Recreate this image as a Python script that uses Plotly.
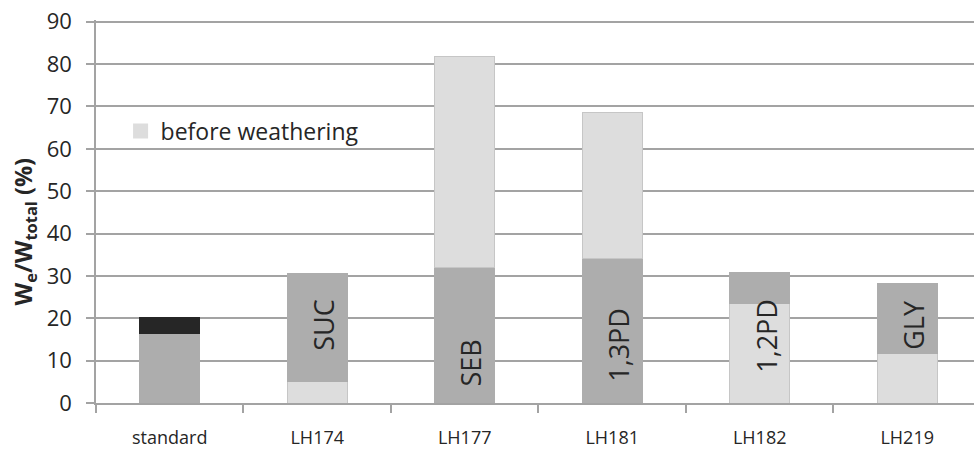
import plotly.graph_objects as go

categories = ["standard", "LH174", "LH177", "LH181", "LH182", "LH219"]
lower_segment = [16.5, 5.0, 32.0, 34.0, 23.5, 11.7]
upper_segment = [3.7, 25.5, 49.8, 34.6, 7.3, 16.5]
segment_labels = ["", "SUC", "SEB", "1,3PD", "1,2PD", "GLY"]
label_y = [0, 18.5, 9.5, 13.8, 15.8, 18.5]
y_ticks = [0, 10, 20, 30, 40, 50, 60, 70, 80, 90]

MED = "#adadad"
LIGHT = "#dddddd"
DARK = "#262626"
lower_colors = [MED, LIGHT, MED, MED, LIGHT, LIGHT]
upper_colors = [DARK, MED, LIGHT, LIGHT, MED, MED]

def edge(cs):
    return ["#c6c6c6" if c == LIGHT else c for c in cs]

FONT = "Open Sans"
TXT = "#262626"
GRID = "#a3a3a3"

fig = go.Figure()
fig.add_trace(go.Bar(x=categories, y=lower_segment, width=0.405,
                     marker=dict(color=lower_colors, line=dict(color=edge(lower_colors), width=1)),
                     showlegend=False, hoverinfo="skip"))
fig.add_trace(go.Bar(x=categories, y=upper_segment, width=0.405,
                     marker=dict(color=upper_colors, line=dict(color=edge(upper_colors), width=1)),
                     showlegend=False, hoverinfo="skip"))
fig.add_trace(go.Scatter(x=[None], y=[None], mode="markers", name="before weathering",
                         marker=dict(color=LIGHT, symbol="square", size=15, line=dict(width=0)),
                         showlegend=True))

for c, t, yy in zip(categories, segment_labels, label_y):
    if t:
        fig.add_annotation(x=c, y=yy, xref="x", yref="y", text=t, textangle=-90,
                           showarrow=False, xshift=6,
                           font=dict(family=FONT, size=27, color=TXT))

fig.add_annotation(xref="paper", yref="paper", x=-0.082, y=0.448, xanchor="center", yanchor="middle",
                   text="<b>W<sub>e</sub>/W<sub>total</sub> (%)</b>", textangle=-90, showarrow=False,
                   font=dict(family=FONT, size=23.5, color=TXT))

fig.update_layout(
    width=974, height=451,
    margin=dict(l=96, r=0, t=20, b=48),
    paper_bgcolor="white", plot_bgcolor="white",
    barmode="stack",
    font=dict(family=FONT, color=TXT),
    legend=dict(x=0.028, y=0.71, xanchor="left", yanchor="middle",
                font=dict(family=FONT, size=23, color=TXT),
                bgcolor="rgba(0,0,0,0)", itemwidth=30),
    xaxis=dict(range=[-0.5, 5.453], showgrid=False, showline=True, linecolor=GRID, linewidth=1.5,
               ticks="outside", tickson="boundaries", ticklen=8, tickcolor=GRID, tickwidth=1.5,
               automargin=False, ticklabelstandoff=18, ticklabeloverflow="allow",
               tickfont=dict(family=FONT, size=18, color=TXT)),
    yaxis=dict(range=[0, 90.4], tickvals=y_ticks, showgrid=True, gridcolor=GRID, gridwidth=1.5,
               showline=True, linecolor=GRID, linewidth=1.5, ticks="outside", ticklen=8,
               tickcolor=GRID, tickwidth=1.5, zeroline=False, automargin=False,
               ticklabelstandoff=10, ticklabeloverflow="allow",
               tickfont=dict(family=FONT, size=22, color=TXT)),
)

# remove the page's default 8px body margin so the figure fills the window exactly
fig.write_html("out.html", config={"displayModeBar": False},
               post_script="document.body.style.margin='0';document.body.style.overflow='hidden';")
